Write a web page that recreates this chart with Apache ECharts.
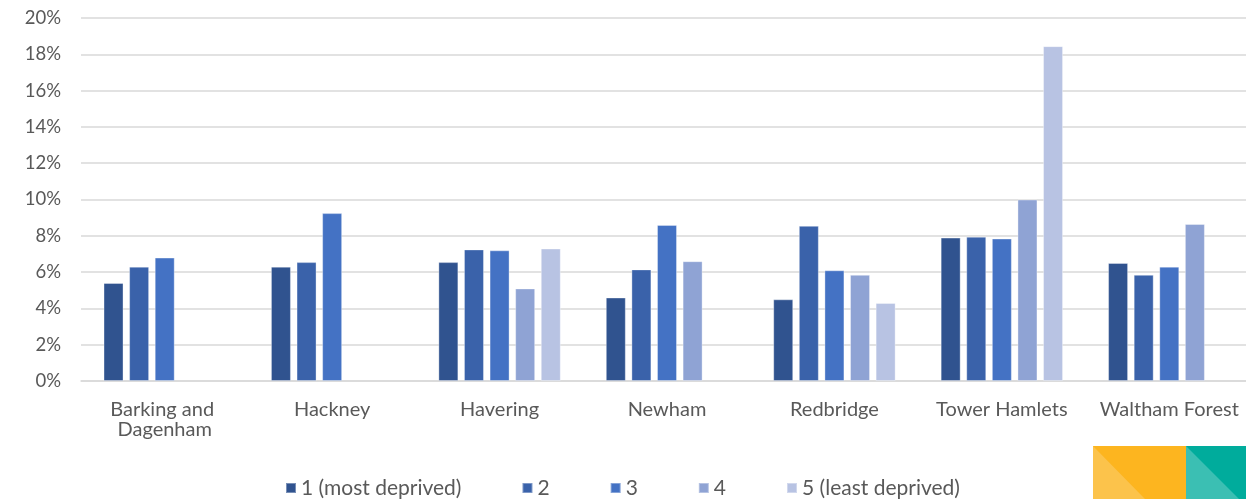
<!DOCTYPE html>
<html>
<head>
<meta charset="utf-8">
<title>Deprivation quintiles by borough</title>
<script src="https://cdn.jsdelivr.net/npm/echarts@6/dist/echarts.min.js"></script>
<style>
  html, body { margin: 0; padding: 0; background: #ffffff; }
  #chart { width: 1246px; height: 499px; }
</style>
</head>
<body>
<div id="chart"></div>
<script>
// Boroughs along the x axis
const boroughs = ['Barking and Dagenham', 'Hackney', 'Havering', 'Newham', 'Redbridge', 'Tower Hamlets', 'Waltham Forest'];

// Deprivation quintile names (legend)
const quintiles = ['1 (most deprived)', '2', '3', '4', '5 (least deprived)'];

// Percentage per borough for each quintile (null = no value)
const q1 = [5.4, 6.3, 6.55, 4.6, 4.5, 7.9, 6.5];
const q2 = [6.3, 6.55, 7.25, 6.15, 8.55, 7.95, 5.85];
const q3 = [6.8, 9.25, 7.2, 8.6, 6.1, 7.85, 6.3];
const q4 = [null, null, 5.1, 6.6, 5.85, 10.0, 8.65];
const q5 = [null, null, 7.3, null, 4.3, 18.45, null];

// Y axis: 0% to 20% in steps of 2
const yMin = 0;
const yMax = 20;
const yStep = 2;

const seriesValues = [q1, q2, q3, q4, q5];
const palette = ['#30538F', '#3A62AA', '#4472C4', '#8FA3D4', '#B8C3E3'];

const labelColor = '#595959';
const fontFamily = 'Lato, "Liberation Sans", sans-serif';

const chart = echarts.init(document.getElementById('chart'), null, { renderer: 'canvas' });

chart.setOption({
  animation: false,
  backgroundColor: '#ffffff',
  color: palette,
  textStyle: { fontFamily: fontFamily },
  // plot area runs slightly past the right edge of the canvas
  grid: { left: 81, top: 18, width: 1172, bottom: 118, containLabel: false, outerBoundsMode: 'none' },
  xAxis: {
    type: 'category',
    data: boroughs,
    axisLine: { show: true, lineStyle: { color: '#d9d9d9', width: 1.5 } },
    axisTick: { show: false },
    axisLabel: {
      interval: 0,
      color: labelColor,
      fontSize: 20,
      fontFamily: fontFamily,
      lineHeight: 20,
      margin: 19,
      width: 160,
      overflow: 'break'
    }
  },
  yAxis: {
    type: 'value',
    min: yMin,
    max: yMax,
    interval: yStep,
    axisLine: { show: false },
    axisTick: { show: false },
    splitLine: { lineStyle: { color: '#d9d9d9', width: 1.5 } },
    axisLabel: {
      color: labelColor,
      fontSize: 18.5,
      fontFamily: fontFamily,
      margin: 20,
      formatter: '{value}%'
    }
  },
  legend: {
    data: quintiles,
    left: 280,
    top: 472,
    itemWidth: 10,
    itemHeight: 10,
    itemGap: 60,
    icon: 'rect',
    textStyle: { color: labelColor, fontSize: 21, fontFamily: fontFamily, lineHeight: 22 }
  },
  graphic: [
    // corner badge: orange and teal blocks with lighter diagonal halves
    { type: 'rect', shape: { x: 1093, y: 446, width: 93, height: 53 }, style: { fill: '#FDB51F' }, silent: true },
    { type: 'polygon', shape: { points: [[1093, 446], [1093, 499], [1145, 499]] }, style: { fill: '#FCC34B' }, silent: true },
    { type: 'rect', shape: { x: 1186, y: 446, width: 60, height: 53 }, style: { fill: '#00AC9C' }, silent: true },
    { type: 'polygon', shape: { points: [[1186, 446], [1186, 499], [1239, 499]] }, style: { fill: '#3BBFB3' }, silent: true }
  ],
  series: seriesValues.map((vals, i) => ({
    name: quintiles[i],
    type: 'bar',
    data: vals,
    barWidth: 20,
    barGap: '28%',
    itemStyle: { color: palette[i], borderColor: 'rgba(255,255,255,0.35)', borderWidth: 1 }
  }))
});
</script>
</body>
</html>
